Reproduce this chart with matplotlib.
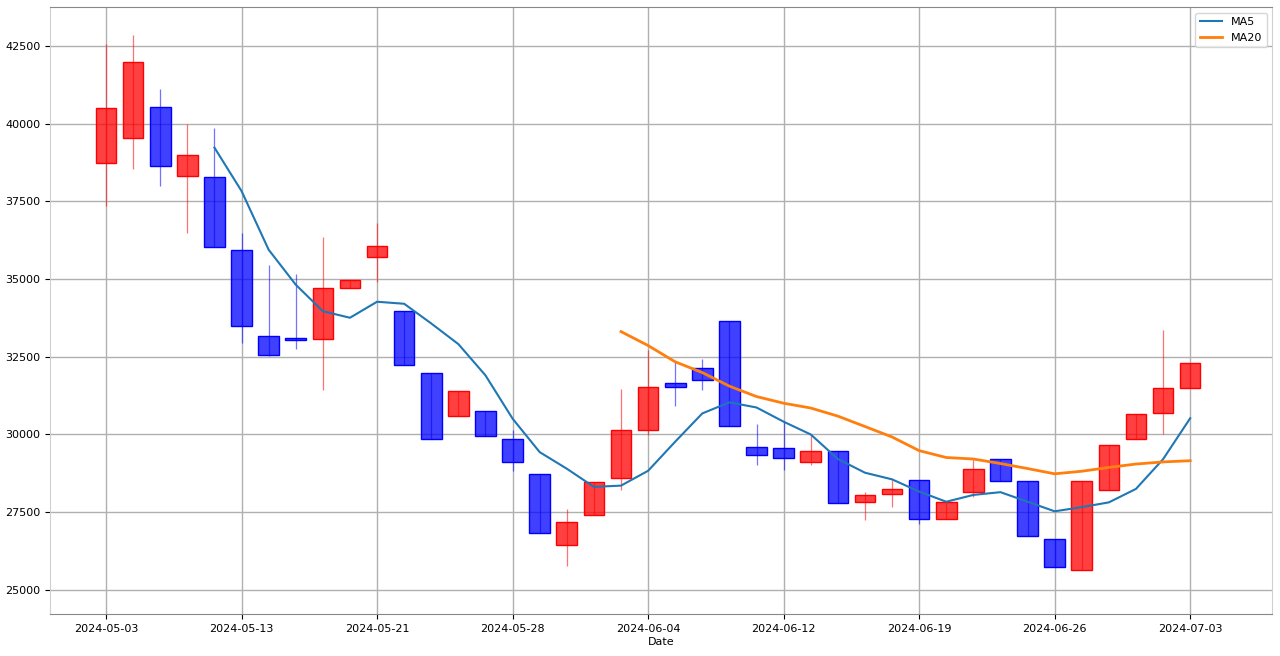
import numpy as np
import matplotlib
matplotlib.use("Agg")
import matplotlib.pyplot as plt
from matplotlib.patches import Rectangle

# trading days (KRX calendar)
dates = ["2024-05-03", "2024-05-07", "2024-05-08", "2024-05-09", "2024-05-10",
         "2024-05-13", "2024-05-14", "2024-05-16", "2024-05-17", "2024-05-20",
         "2024-05-21", "2024-05-22", "2024-05-23", "2024-05-24", "2024-05-27",
         "2024-05-28", "2024-05-29", "2024-05-30", "2024-05-31", "2024-06-03",
         "2024-06-04", "2024-06-05", "2024-06-07", "2024-06-10", "2024-06-11",
         "2024-06-12", "2024-06-13", "2024-06-14", "2024-06-17", "2024-06-18",
         "2024-06-19", "2024-06-20", "2024-06-21", "2024-06-24", "2024-06-25",
         "2024-06-26", "2024-06-27", "2024-06-28", "2024-07-01", "2024-07-02",
         "2024-07-03"]
opens = [38731, 39536, 40533, 38323, 38300, 35941, 33152, 33100, 33067, 34709,
         35706, 33978, 31983, 30599, 30750, 29859, 28723, 26438, 27404, 28594,
         30149, 31652, 32122, 33666, 29592, 29547, 29119, 29451, 27822, 28089,
         28517, 27262, 28131, 29206, 28485, 26641, 25621, 28196, 29837, 30696,
         31478]
highs = [42570, 42860, 41122, 39986, 39867, 36479, 35437, 35159, 36360, 34976,
         36800, 33978, 31983, 31404, 30750, 30149, 28723, 27597, 28475, 31458,
         32723, 32347, 32443, 33666, 30342, 30416, 29988, 29451, 28131, 28540,
         28517, 27809, 29238, 29206, 28485, 26641, 28485, 29656, 30654, 33367,
         32305]
lows = [37367, 38548, 38010, 36498, 36028, 32958, 32510, 32746, 31414, 34709,
        34921, 32219, 29849, 30599, 29946, 28807, 26825, 25750, 27404, 28218,
        29988, 30899, 31414, 30255, 29000, 28839, 29000, 27790, 27230, 27661,
        27124, 27262, 27970, 28485, 26715, 25718, 25621, 28196, 29837, 30020,
        31478]
closes = [40501, 41981, 38654, 38998, 36028, 33505, 32541, 33023, 34728, 34976,
          36080, 32219, 29849, 31404, 29946, 29119, 26825, 27188, 28475, 30149,
          31510, 31510, 31735, 30255, 29322, 29225, 29451, 27790, 28047, 28250,
          27262, 27809, 28894, 28485, 26715, 25718, 28485, 29656, 30654, 31500,
          32305]

# moving averages (first value sits on the 5th / 20th candle)
ma5 = [39232, 37833, 35945, 34819, 33965, 33755, 34270, 34205, 33570, 32906,
       31900, 30507, 29429, 28896, 28311, 28351, 28829, 29766, 30676, 31032,
       30866, 30409, 29998, 29209, 28767, 28553, 28160, 27832, 28052, 28140,
       27833, 27524, 27659, 27812, 28246, 29203, 30520]
ma20 = [33309, 32860, 32336, 31990, 31553, 31218, 31004, 30849, 30588, 30254,
        29917, 29477, 29256, 29208, 29062, 28901, 28731, 28814, 28937, 29046,
        29114, 29153]

fig = plt.figure(figsize=(12.8, 6.56), dpi=100)
ax = fig.add_axes([0.039, 0.064, 0.955, 0.925])

x = np.arange(len(dates))
for i in x:
    up = closes[i] >= opens[i]
    col = "red" if up else "blue"
    face = (1, 0, 0, 0.75) if up else (0, 0, 1, 0.75)
    bottom = min(opens[i], closes[i])
    height = abs(closes[i] - opens[i])
    ax.add_patch(Rectangle((i - 0.38, bottom), 0.76, height,
                           facecolor=face, edgecolor=col, linewidth=1, zorder=3))
    ax.vlines(i, lows[i], highs[i], color=col, linewidth=0.9, alpha=0.55, zorder=4)

ax.plot(x[len(x) - len(ma5):], ma5, color="#1f77b4", linewidth=1.5, label="MA5", zorder=5)
ax.plot(x[len(x) - len(ma20):], ma20, color="#ff7f0e", linewidth=2, label="MA20", zorder=5)

ax.set_xlim(-2.07, 43.03)
ax.set_ylim(24218, 43751)
ax.set_xticks(x[::5])
ax.set_xticklabels(dates[::5], fontsize=8)
ax.tick_params(axis="y", labelsize=8)
ax.set_xlabel("Date", fontsize=8, labelpad=2)
ax.grid(True, color="#b0b0b0", linewidth=1)
ax.set_axisbelow(True)
for s in ["left", "right"]:
    ax.spines[s].set_color("#d0d0d0")
for s in ["top", "bottom"]:
    ax.spines[s].set_color("#888888")
ax.legend(loc="upper right", fontsize=8)

fig.savefig("out.png", dpi=100)
